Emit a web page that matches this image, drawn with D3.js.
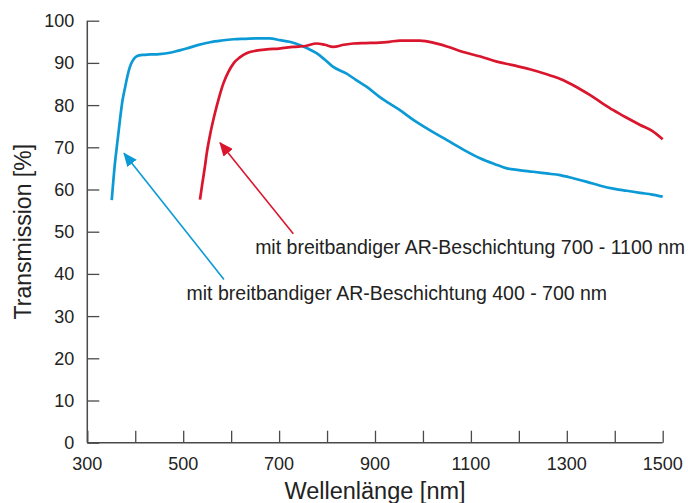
<!DOCTYPE html>
<html>
<head>
<meta charset="utf-8">
<script src="https://cdn.jsdelivr.net/npm/d3@7"></script>
<style>
  html, body { margin: 0; padding: 0; background: #fff; }
  svg { display: block; font-family: "Liberation Sans", Arial, sans-serif; }
</style>
</head>
<body>
<svg id="chart" width="688" height="503"></svg>
<script>
// Blue curve: broadband AR coating 400 - 700 nm
const blueWavelength = [351, 357, 363, 368, 373, 379, 384, 389, 395, 403, 415, 431, 450, 472, 490, 507, 530, 556, 580, 605, 630, 653, 680, 702, 722, 744, 760, 778, 795, 812, 840, 860, 883, 910, 930, 952, 980, 1015, 1050, 1085, 1119, 1150, 1175, 1200, 1230, 1258, 1286, 1315, 1342, 1370, 1397, 1425, 1453, 1478, 1500];
const blueTransmission = [57.5, 65.5, 71.5, 76.4, 80.8, 84.3, 87.0, 89.1, 90.6, 91.6, 91.9, 92.0, 92.1, 92.4, 92.9, 93.4, 94.2, 94.9, 95.3, 95.6, 95.7, 95.8, 95.8, 95.4, 95.0, 94.2, 93.4, 92.3, 90.8, 89.1, 87.5, 86.0, 84.3, 81.9, 80.4, 78.8, 76.5, 74.0, 71.7, 69.4, 67.4, 66.0, 65.0, 64.6, 64.2, 63.8, 63.4, 62.6, 61.8, 60.9, 60.2, 59.7, 59.2, 58.8, 58.3];

// Red curve: broadband AR coating 700 - 1100 nm
const redWavelength = [535, 540, 545, 549, 557, 566, 575, 584, 594, 605, 618, 632, 652, 674, 700, 730, 755, 778, 795, 813, 835, 855, 880, 910, 930, 952, 975, 994, 1008, 1021, 1050, 1084, 1120, 1154, 1190, 1223, 1258, 1293, 1320, 1348, 1372, 1397, 1425, 1453, 1478, 1500];
const redTransmission = [57.6, 61.5, 65.2, 68.5, 73.5, 78.0, 81.9, 85.2, 87.8, 89.9, 91.3, 92.3, 92.9, 93.2, 93.4, 93.8, 94.0, 94.6, 94.3, 93.8, 94.3, 94.6, 94.7, 94.8, 95.0, 95.3, 95.3, 95.3, 95.1, 94.8, 93.9, 92.6, 91.5, 90.3, 89.4, 88.5, 87.3, 85.9, 84.3, 82.4, 80.6, 78.8, 77.0, 75.3, 73.9, 71.9];

// Axis ticks and labels
const xTickValues = [300, 400, 500, 600, 700, 800, 900, 1000, 1100, 1200, 1300, 1400, 1500];
const xLabelValues = [300, 500, 700, 900, 1100, 1300, 1500];
const yTickValues = [0, 10, 20, 30, 40, 50, 60, 70, 80, 90, 100];
const xTitle = "Wellenlänge [nm]";
const yTitle = "Transmission [%]";

// Annotations: arrow [tail wavelength, tail value, tip wavelength, tip value], text anchor
const blueLabel = "mit breitbandiger AR-Beschichtung 400 - 700 nm";
const blueArrow = [585, 38.7, 376.5, 68.6];
const blueLabelAt = [507, 33.8];
const redLabel = "mit breitbandiger AR-Beschichtung 700 - 1100 nm";
const redArrow = [729.6, 49.5, 576.7, 71.1];
const redLabelAt = [650, 44.7];

const BLUE = "#0b9ad6";
const RED = "#d9162d";
const AXIS = "#4a4a4a";

const svg = d3.select("#chart");
const x = d3.scaleLinear().domain([300, 1500]).range([87.3, 662.7]);
const y = d3.scaleLinear().domain([0, 100]).range([442.7, 20.7]);

// defs for arrowheads
const defs = svg.append("defs");
["blueHead", "redHead"].forEach((id, i) => {
  const color = i === 0 ? BLUE : RED;
  defs.append("marker")
    .attr("id", id)
    .attr("viewBox", "0 0 14 12")
    .attr("refX", 13).attr("refY", 6)
    .attr("markerWidth", 14).attr("markerHeight", 12)
    .attr("markerUnits", "userSpaceOnUse")
    .attr("orient", "auto")
    .append("path")
    .attr("d", "M0,0 L14,6 L0,12 Z")
    .attr("fill", color);
});

// X axis (ticks inward)
const xAxis = d3.axisTop(x).tickValues(xTickValues).tickSize(12).tickFormat("");
const gx = svg.append("g").attr("transform", `translate(0,${y(0)})`).call(xAxis);
gx.select(".domain").remove();
gx.selectAll(".tick line").attr("stroke", AXIS).attr("stroke-width", 1.3);
svg.append("line")
  .attr("x1", x(300)).attr("x2", x(1500))
  .attr("y1", y(0)).attr("y2", y(0))
  .attr("stroke", AXIS).attr("stroke-width", 1.5);
svg.append("g").selectAll("text").data(xLabelValues).join("text")
  .attr("x", d => x(d)).attr("y", y(0) + 27)
  .attr("text-anchor", "middle")
  .attr("font-size", 18).attr("fill", "#222")
  .text(d => d);

// Y axis (ticks inward)
const yAxis = d3.axisRight(y).tickValues(yTickValues).tickSize(12).tickFormat("");
const gy = svg.append("g").attr("transform", `translate(${x(300)},0)`).call(yAxis);
gy.select(".domain").remove();
gy.selectAll(".tick line").attr("stroke", AXIS).attr("stroke-width", 1.3);
svg.append("line")
  .attr("x1", x(300)).attr("x2", x(300))
  .attr("y1", y(0)).attr("y2", y(100))
  .attr("stroke", AXIS).attr("stroke-width", 1.5);
svg.append("g").selectAll("text").data(yTickValues).join("text")
  .attr("x", x(300) - 13).attr("y", d => y(d) + 6.5)
  .attr("text-anchor", "end")
  .attr("font-size", 18).attr("fill", "#222")
  .text(d => d);

// Axis titles
svg.append("text")
  .attr("x", (x(300) + x(1500)) / 2).attr("y", 499)
  .attr("text-anchor", "middle").attr("font-size", 23.5).attr("fill", "#222")
  .text(xTitle);
svg.append("text")
  .attr("transform", `translate(31,${(y(0) + y(100)) / 2}) rotate(-90)`)
  .attr("text-anchor", "middle").attr("font-size", 23).attr("fill", "#222")
  .text(yTitle);

// Curves
const line = d3.line().x(d => x(d[0])).y(d => y(d[1])).curve(d3.curveMonotoneX);
svg.append("path")
  .datum(blueWavelength.map((w, i) => [w, blueTransmission[i]]))
  .attr("d", line).attr("fill", "none")
  .attr("stroke", BLUE).attr("stroke-width", 2.7).attr("stroke-linejoin", "round");
svg.append("path")
  .datum(redWavelength.map((w, i) => [w, redTransmission[i]]))
  .attr("d", line).attr("fill", "none")
  .attr("stroke", RED).attr("stroke-width", 2.7).attr("stroke-linejoin", "round");

// Arrows
function arrow(a, color, head) {
  svg.append("line")
    .attr("x1", x(a[0])).attr("y1", y(a[1]))
    .attr("x2", x(a[2])).attr("y2", y(a[3]))
    .attr("stroke", color).attr("stroke-width", 1.6)
    .attr("marker-end", `url(#${head})`);
}
arrow(blueArrow, BLUE, "blueHead");
arrow(redArrow, RED, "redHead");

// Annotation labels
svg.append("text")
  .attr("x", x(redLabelAt[0])).attr("y", y(redLabelAt[1]))
  .attr("font-size", 19.5).attr("fill", "#222").text(redLabel);
svg.append("text")
  .attr("x", x(blueLabelAt[0])).attr("y", y(blueLabelAt[1]))
  .attr("font-size", 19.5).attr("fill", "#222").text(blueLabel);
</script>
</body>
</html>
